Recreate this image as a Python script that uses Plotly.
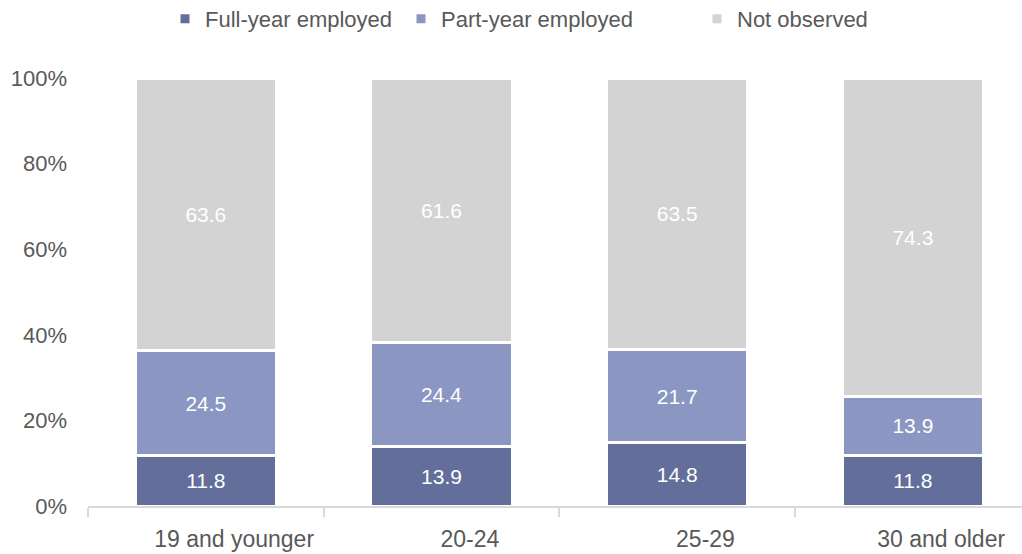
import plotly.graph_objects as go

# Age groups and share of workers by employment status (%)
age_groups = ["19 and younger", "20-24", "25-29", "30 and older"]
full_year = [11.8, 13.9, 14.8, 11.8]
part_year = [24.5, 24.4, 21.7, 13.9]
not_observed = [63.6, 61.6, 63.5, 74.3]

series_names = ["Full-year employed", "Part-year employed", "Not observed"]
series_values = [full_year, part_year, not_observed]
series_colors = ["#636E9A", "#8B97C2", "#D3D3D3"]

y_tick_values = [0, 20, 40, 60, 80, 100]
y_tick_labels = ["0%", "20%", "40%", "60%", "80%", "100%"]

FONT = "Liberation Sans"
GREY = "#595959"
W, H = 1022, 554

# one legend per series so each entry sits at its own spot in the header
legend_ids = ["legend", "legend2", "legend3"]
legend_left_px = [165, 401, 697]

X_RANGE = [-0.5, 3.463]
LABEL_SHIFT = 0.12  # category labels sit a little right of the bar centres

fig = go.Figure()
for name, vals, color, lid in zip(series_names, series_values, series_colors, legend_ids):
    fig.add_trace(go.Bar(
        x=list(range(len(age_groups))),
        y=vals,
        name=name,
        legend=lid,
        marker=dict(color=color, line=dict(color="white", width=3)),
        width=0.6,
        text=[f"{v:.1f}" for v in vals],
        textposition="inside",
        insidetextanchor="middle",
        textangle=0,
        textfont=dict(family=FONT, size=21, color="white"),
        hoverinfo="skip",
    ))

legend_common = dict(
    orientation="h",
    xref="container",
    yref="container",
    y=1 - 19 / H,
    xanchor="left",
    yanchor="middle",
    font=dict(family=FONT, size=22, color=GREY),
    itemwidth=30,
    bgcolor="rgba(0,0,0,0)",
)
legends = {}
for lid, px in zip(legend_ids, legend_left_px):
    legends[lid] = dict(legend_common, x=px / W)

fig.update_layout(
    barmode="stack",
    width=W,
    height=H,
    margin=dict(l=88, r=0, t=78, b=48),
    paper_bgcolor="white",
    plot_bgcolor="white",
    font=dict(family=FONT, size=22, color=GREY),
    showlegend=True,
    **legends,
    # axis line with boundary ticks between the groups
    xaxis=dict(
        range=X_RANGE,
        tickvals=[i - 0.5 for i in range(len(age_groups) + 1)],
        showticklabels=False,
        showgrid=False,
        zeroline=False,
        showline=True,
        linecolor="#D9D9D9",
        linewidth=2,
        ticks="outside",
        ticklen=9,
        tickcolor="#D9D9D9",
        tickwidth=2,
        automargin=False,
    ),
    # group labels
    xaxis2=dict(
        overlaying="x",
        side="bottom",
        anchor="y",
        range=[X_RANGE[0] - LABEL_SHIFT, X_RANGE[1] - LABEL_SHIFT],
        tickvals=list(range(len(age_groups))),
        ticktext=age_groups,
        showgrid=False,
        zeroline=False,
        showline=False,
        ticks="",
        tickfont=dict(family=FONT, size=23, color=GREY),
        ticklabelstandoff=17,
        automargin=False,
    ),
    yaxis=dict(
        range=[0, 100],
        tickvals=y_tick_values,
        ticktext=y_tick_labels,
        showgrid=False,
        zeroline=False,
        showline=False,
        ticks="",
        tickfont=dict(family=FONT, size=22, color=GREY),
        ticklabelstandoff=20,
        automargin=False,
    ),
)

# invisible marker so the label axis is drawn
fig.add_trace(go.Scatter(
    x=[0], y=[0], xaxis="x2", yaxis="y", mode="markers",
    marker=dict(opacity=0), showlegend=False, hoverinfo="skip",
))

fig.write_html("out.html")
